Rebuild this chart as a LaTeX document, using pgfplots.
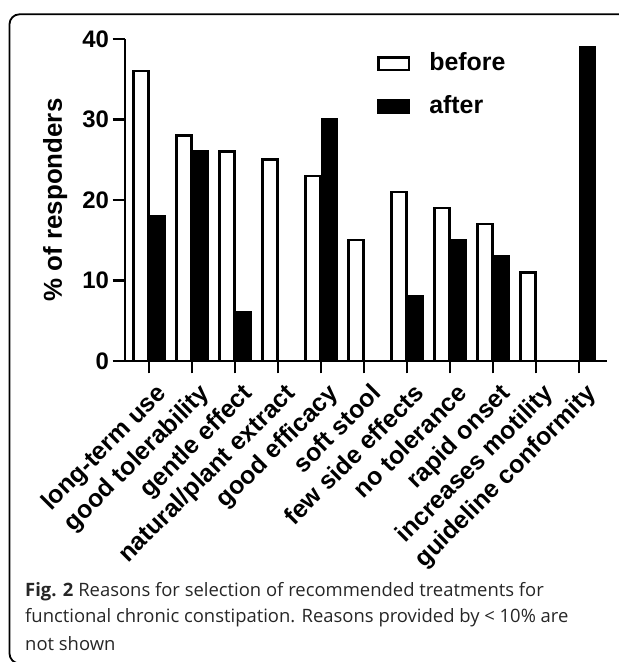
\documentclass[border=0pt]{standalone}
\usepackage{pgfplots}
\pgfplotsset{compat=1.18}
\usepackage{fontspec}
\setmainfont{Liberation Sans}
\newfontfamily\capfont{Open Sans}
\begin{document}
\begin{tikzpicture}[x=1bp,y=1bp]
\useasboundingbox (0,0) rectangle (619,662);
\draw[line width=1.8bp, rounded corners=10bp] (660,647.7) -- (9.5,647.7) -- (9.5,-1.5) -- (660,-1.5);
\begin{axis}[
  at={(125bp,301bp)}, anchor=south west,
  scale only axis, width=482bp, height=322bp,
  xmin=-0.56, xmax=10.65, ymin=0, ymax=40,
  axis lines=left,
  axis line style={line width=2.5bp, -},
  tick align=outside,
  major tick length=12.5bp,
  tick style={line width=2.5bp, black},
  xtick={0,...,10},
  xticklabels={long-term use, good tolerability, gentle effect, natural/plant extract, good efficacy, soft stool, few side effects, no tolerance, rapid onset, increases motility, guideline conformity},
  ytick={0,10,20,30,40},
  /pgf/number format/assume math mode=true,
  yticklabel style={font=\fontsize{24}{24}\selectfont\bfseries},
  xticklabel style={font=\fontsize{25}{25}\selectfont\bfseries, rotate=45, anchor=north east, inner sep=1bp, xshift=-1bp, yshift=-9bp},
  ylabel={\% of responders},
  ylabel style={font=\fontsize{26}{26}\selectfont\bfseries, at={(axis description cs:-0.145,0.5)}, anchor=center},
  legend style={draw=none, fill=none, at={(axis description cs:0.523,0.96)}, anchor=north west,
    inner sep=0pt, row sep=20bp, font=\fontsize{25}{25}\selectfont\bfseries,
    nodes={inner sep=0pt, text height=18bp, text depth=5bp},
    /tikz/every odd column/.append style={column sep=19bp}},
  legend cell align=left,
]
\addplot[ybar, bar width=15bp, bar shift=-8.25bp, fill=white, draw=black, line width=2.5bp,
  legend image code/.code={\draw[fill=white, draw=black, line width=2.5bp] (0bp,-6.3bp) rectangle (30.5bp,6.3bp);}]
  coordinates {(0,36) (1,28) (2,26) (3,25) (4,23) (5,15) (6,21) (7,19) (8,17) (9,11)};
\addlegendentry{before}
\addplot[ybar, bar width=15bp, bar shift=8.25bp, fill=black, draw=black, line width=2.5bp,
  legend image code/.code={\draw[fill=black, draw=black, line width=2.5bp] (0bp,-6.3bp) rectangle (30.5bp,6.3bp);}]
  coordinates {(0,18) (1,26) (2,6) (4,30) (6,8) (7,15) (8,13) (10,39)};
\addlegendentry{after}
\end{axis}
\begin{scope}[every node/.style={anchor=base west, inner sep=0pt, font=\capfont\fontsize{18.5}{27}\selectfont, text=black!85}]
\node at (25,65) {\textbf{Fig. 2} Reasons for selection of recommended treatments for};
\node at (25,39) {functional chronic constipation. Reasons provided by < 10\% are};
\node at (25,11) {not shown};
\end{scope}
\end{tikzpicture}
\end{document}
